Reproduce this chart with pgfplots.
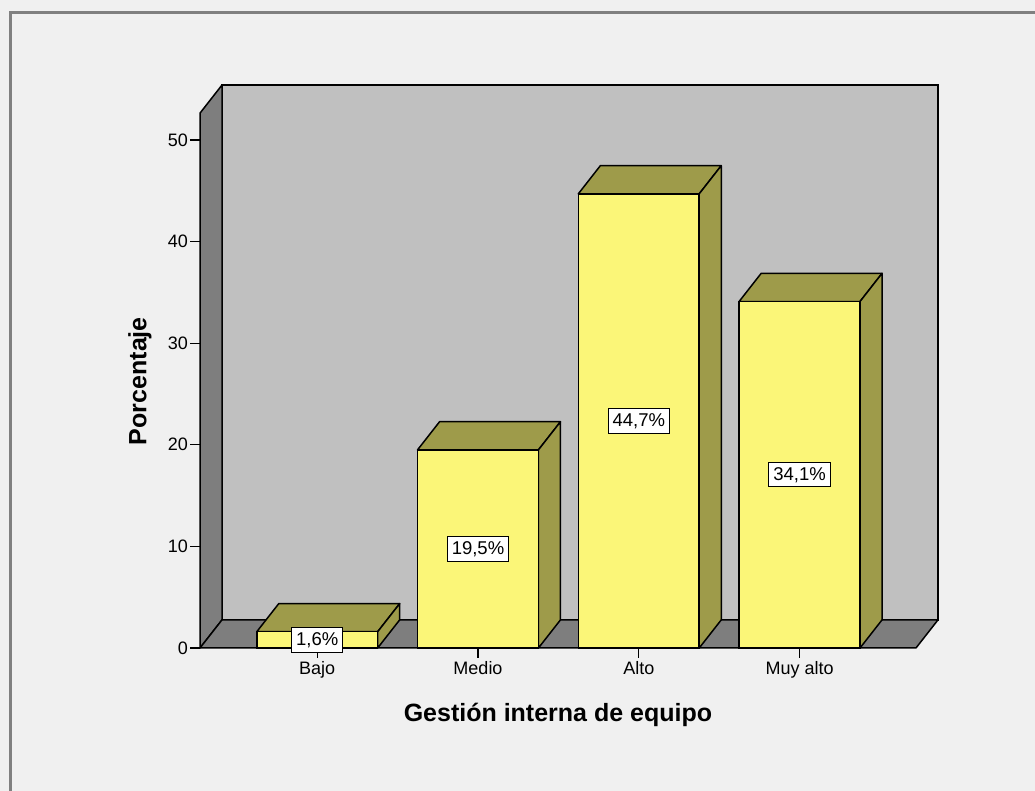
\documentclass[border=0pt]{standalone}
\usepackage{fontspec}
\setmainfont{Liberation Sans}
\usepackage{pgfplots}
\pgfplotsset{compat=1.18}
\usepackage{pgfplotstable}

\definecolor{bgc}{HTML}{F0F0F0}
\definecolor{framec}{HTML}{808080}
\definecolor{backw}{HTML}{C0C0C0}
\definecolor{sidew}{HTML}{7E7E7E}
\definecolor{barf}{HTML}{FBF678}
\definecolor{bart}{HTML}{9E9B4A}

% porcentajes por categoria
\pgfplotstableread{
x v
0 1.6
1 19.5
2 44.7
3 34.1
}\datatable

% cara superior y lateral de una barra (x, valor)
\newcommand\barthreed[2]{%
  \pgfmathsetmacro\xa{#1-0.376}%
  \pgfmathsetmacro\xb{#1+0.376}%
  \pgfmathsetmacro\xc{#1-0.376+0.137}%
  \pgfmathsetmacro\xd{#1+0.376+0.137}%
  \pgfmathsetmacro\yt{#2+2.77}%
  \edef\tmp{%
    \noexpand\addplot[fill=bart,draw=black,line width=1.5pt,line join=round] coordinates {(\xa,#2) (\xc,\yt) (\xd,\yt) (\xb,#2)} -- cycle;
    \noexpand\addplot[fill=bart,draw=black,line width=1.5pt,line join=round] coordinates {(\xb,0) (\xb,#2) (\xd,\yt) (\xd,2.77)} -- cycle;}%
  \tmp}

\begin{document}
\begin{tikzpicture}[x=1pt,y=1pt]
\fill[bgc] (0,0) rectangle (1035,791);
\draw[framec, line width=3pt] (10,-5) -- (10,778) -- (1040,778);
\begin{axis}[
  at={(200pt,143pt)}, anchor=south west,
  scale only axis, width=738pt, height=563pt,
  xmin=-0.729, xmax=3.861, ymin=0, ymax=55.41,
  clip=false, no markers,
  axis x line*=bottom, axis y line*=left,
  axis line style={draw=none},
  ytick={0,10,...,50}, xtick={0,1,2,3},
  xticklabels={Bajo,Medio,Alto,Muy alto},
  tick align=outside, major tick length=10pt,
  tick style={black, line width=1.3pt},
  /pgf/number format/assume math mode=true,
  ticklabel style={font=\fontsize{18}{20}\selectfont},
  yticklabel style={inner xsep=2pt},
  xlabel={Gestión interna de equipo}, ylabel={Porcentaje},
  label style={font=\bfseries\fontsize{25}{30}\selectfont},
  xlabel style={at={(axis description cs:0.485,-0.119)}, anchor=center},
  ylabel style={at={(axis description cs:-0.0813,0.474)}, anchor=center},
]
% paredes
\addplot[fill=backw, draw=black, line width=1.5pt] coordinates {(-0.592,2.77) (-0.592,55.41) (3.861,55.41) (3.861,2.77)} -- cycle;
\addplot[fill=sidew, draw=black, line width=1.5pt, line join=round] coordinates {(-0.729,0) (-0.729,52.64) (-0.592,55.41) (-0.592,2.77)} -- cycle;
\addplot[fill=sidew, draw=black, line width=1.5pt, line join=round] coordinates {(-0.729,0) (-0.592,2.77) (3.861,2.77) (3.724,0)} -- cycle;
% barras
\barthreed{0}{1.6}
\barthreed{1}{19.5}
\barthreed{2}{44.7}
\barthreed{3}{34.1}
\addplot[ybar, bar width=0.752, bar shift=0pt, fill=barf, draw=black, line width=1.5pt] table[x=x,y=v]{\datatable};
% etiquetas
\addplot[draw=none,
  point meta=\thisrow{v},
  nodes near coords={\pgfmathprintnumber[fixed,fixed zerofill,precision=1,use comma]{\pgfplotspointmeta}\%},
  nodes near coords align=center,
  every node near coord/.style={fill=white, draw=black, line width=1pt, inner xsep=4.5pt, inner ysep=4.5pt, font=\fontsize{18.5}{20}\selectfont, anchor=center}]
  table[x=x, y expr=\thisrow{v}/2]{\datatable};
\end{axis}
\pgfresetboundingbox
\useasboundingbox (0,0) rectangle (1035,791);
\end{tikzpicture}
\end{document}
